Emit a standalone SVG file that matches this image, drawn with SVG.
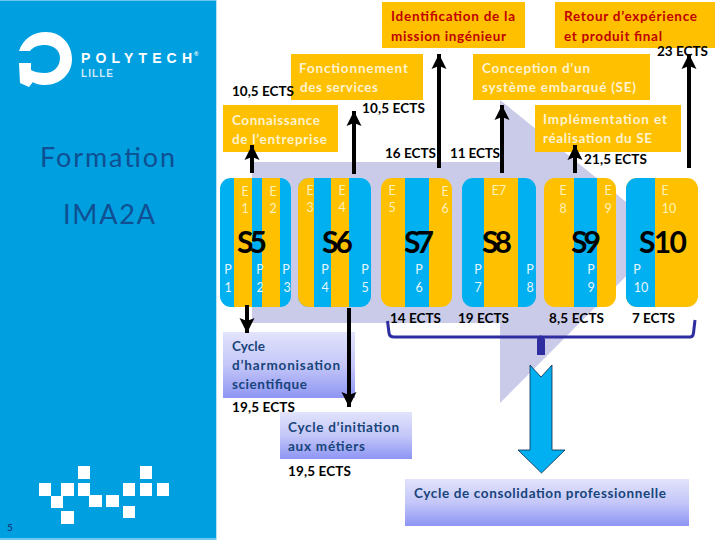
<svg xmlns="http://www.w3.org/2000/svg" width="720" height="540" viewBox="0 0 720 540">
<style>
text{font-family:"Lato","Liberation Sans",sans-serif;font-weight:700}
.or{fill:#ffc000}.cy{fill:#00b0f0}
.ttl{fill:#0f4f92;font-size:27px;font-weight:400;-webkit-text-stroke:.5px #0f4f92}
.lab{font-size:13.5px;fill:#fff3cf}
.red{font-size:13.5px;fill:#c00000}
.nav{font-size:13.5px;fill:#17447a}
.ects{font-size:13.5px;fill:#000}
.sem{font-size:30px;fill:#000}
.e{font-size:12.5px;fill:#fff2b8;font-weight:400;text-anchor:middle}
.p{font-size:12.5px;fill:#e8f6ff;font-weight:400;text-anchor:middle}
.px{fill:#fff}
.arr{stroke:#000;stroke-width:4;fill:none;marker-end:url(#head)}
</style>
<defs>
<marker id="head" markerUnits="userSpaceOnUse" markerWidth="16" markerHeight="16" refX="15" refY="8" orient="auto"><path d="M0 0.5L15 8L0 15.5L3 8Z" fill="#000"/></marker>
<linearGradient id="lav" x1="0" y1="0" x2="0" y2="1"><stop offset="0" stop-color="#e2e3fc"/><stop offset=".5" stop-color="#c4c7f8"/><stop offset="1" stop-color="#8e95f3"/></linearGradient>
<clipPath id="c5"><rect x="220" y="178" width="71" height="129" rx="11"/></clipPath>
<clipPath id="c6"><rect x="298" y="178" width="73" height="129" rx="11"/></clipPath>
<clipPath id="c7"><rect x="381" y="178" width="71" height="129" rx="11"/></clipPath>
<clipPath id="c8"><rect x="462" y="178" width="74" height="129" rx="11"/></clipPath>
<clipPath id="c9"><rect x="544" y="178" width="72" height="129" rx="11"/></clipPath>
<clipPath id="c10"><rect x="626" y="178" width="72" height="129" rx="11"/></clipPath>
</defs>
<rect width="720" height="540" fill="#fff"/>
<g id="panel">
<rect x="0" y="0" width="216" height="540" fill="#009fe0"/>
<rect x="216" y="0" width="1" height="540" fill="#b5e2f7"/>
<rect x="0" y="0" width="216" height="1" fill="#6cc8ef"/>
<rect x="0" y="538" width="216" height="2" fill="#6cc8ef"/>
<g id="logo">
<path d="M19 51C23 39 33 32 46 32C61 32 72 44 72 59C72 74 60 85 45 85C40 85 35 84 33 82L29 87L20 83L19 63L31 63L31 70C34 72 39 73 45 73C53 73 60 67 60 58C60 50 53 45 45 45C38 45 33 47 30 51Z" fill="#fff"/>
<text x="81" y="63" font-size="14" fill="#fff" textLength="111" style="font-family:'Liberation Sans',sans-serif">POLYTECH</text>
<text x="194" y="56" font-size="6" fill="#fff" style="font-family:'Liberation Sans',sans-serif">®</text>
<text x="81" y="77" font-size="10" fill="#cfeaf8" textLength="32" style="font-family:'Liberation Sans',sans-serif">LILLE</text>
</g>
<text class="ttl" x="40" y="167" textLength="135">Formation</text>
<text class="ttl" x="63" y="224" textLength="92">IMA2A</text>
<g id="pixels">
<rect class="px" x="78" y="466" width="12" height="13"/><rect class="px" x="140" y="466" width="12" height="13"/>
<rect class="px" x="39" y="483" width="12" height="13"/><rect class="px" x="61" y="483" width="13" height="13"/><rect class="px" x="78" y="483" width="12" height="13"/><rect class="px" x="123" y="483" width="12" height="13"/><rect class="px" x="140" y="483" width="12" height="13"/><rect class="px" x="157" y="483" width="12" height="13"/>
<rect class="px" x="51" y="496" width="12" height="12"/><rect class="px" x="89" y="495" width="13" height="12"/><rect class="px" x="106" y="495" width="13" height="12"/><rect class="px" x="123" y="506" width="12" height="12"/><rect class="px" x="61" y="511" width="13" height="13"/>
</g>
<text x="7" y="531" font-size="10" fill="#0b2a66" font-weight="400" style="font-weight:400">5</text>
</g>
<path id="backdrop" d="M252 162H500V100L667 235L500 403V323H252Z" fill="#c9cbe8"/>

<g id="S5"><g clip-path="url(#c5)"><rect class="cy" x="220" y="178" width="71" height="129"/><rect class="or" x="234" y="178" width="18" height="129"/><rect class="or" x="262" y="178" width="18" height="129"/></g>
<text class="e" x="245" y="196">E</text><text class="e" x="245" y="213">1</text><text class="e" x="273" y="196">E</text><text class="e" x="273" y="213">2</text>
<text class="p" x="228" y="274">P</text><text class="p" x="228" y="292">1</text><text class="p" x="260" y="274">P</text><text class="p" x="260" y="292">2</text><text class="p" x="286" y="274">P</text><text class="p" x="287" y="292">3</text>
<text class="sem" x="237" y="253" textLength="30">S5</text></g>

<g id="S6"><g clip-path="url(#c6)"><rect class="cy" x="298" y="178" width="73" height="129"/><rect class="or" x="298" y="178" width="16" height="129"/><rect class="or" x="331" y="178" width="18" height="129"/></g>
<text class="e" x="310" y="195">E</text><text class="e" x="310" y="212">3</text><text class="e" x="342" y="195">E</text><text class="e" x="342" y="212">4</text>
<text class="p" x="325" y="274">P</text><text class="p" x="325" y="292">4</text><text class="p" x="365" y="274">P</text><text class="p" x="365" y="292">5</text>
<text class="sem" x="322" y="253" textLength="31">S6</text></g>

<g id="S7"><g clip-path="url(#c7)"><rect class="or" x="381" y="178" width="71" height="129"/><rect class="cy" x="405" y="178" width="24" height="129"/></g>
<text class="e" x="392" y="195">E</text><text class="e" x="392" y="212">5</text><text class="e" x="445" y="196">E</text><text class="e" x="445" y="213">6</text>
<text class="p" x="419" y="274">P</text><text class="p" x="419" y="292">6</text>
<text class="sem" x="404" y="253" textLength="30">S7</text></g>

<g id="S8"><g clip-path="url(#c8)"><rect class="cy" x="462" y="178" width="74" height="129"/><rect class="or" x="484" y="178" width="34" height="129"/></g>
<text class="e" x="499" y="195">E7</text>
<text class="p" x="478" y="274">P</text><text class="p" x="478" y="292">7</text><text class="p" x="530" y="274">P</text><text class="p" x="530" y="292">8</text>
<text class="sem" x="482" y="253" textLength="30">S8</text></g>

<g id="S9"><g clip-path="url(#c9)"><rect class="or" x="544" y="178" width="72" height="129"/><rect class="cy" x="574" y="178" width="23" height="129"/></g>
<text class="e" x="563" y="195">E</text><text class="e" x="563" y="213">8</text><text class="e" x="608" y="195">E</text><text class="e" x="608" y="213">9</text>
<text class="p" x="591" y="274">P</text><text class="p" x="591" y="292">9</text>
<text class="sem" x="571" y="253" textLength="30">S9</text></g>

<g id="S10"><g clip-path="url(#c10)"><rect class="or" x="626" y="178" width="72" height="129"/><rect class="cy" x="626" y="178" width="29" height="129"/></g>
<text class="e" x="665" y="195">E</text><text class="e" x="669" y="213">10</text>
<text class="p" x="637" y="274">P</text><text class="p" x="641" y="292">10</text>
<text class="sem" x="639" y="253" textLength="48">S10</text></g>

<g id="box-identification"><rect class="or" x="382" y="2" width="143" height="46"/><text class="red" x="391" y="21" textLength="124">Identification de la</text><text class="red" x="391" y="41" textLength="115">mission ingénieur</text></g>
<g id="box-retour"><rect class="or" x="555" y="2" width="160" height="46"/><text class="red" x="564" y="21" textLength="133">Retour d’expérience</text><text class="red" x="564" y="41" textLength="98">et produit final</text></g>
<g id="box-fonctionnement"><rect class="or" x="291" y="54" width="132" height="46"/><text class="lab" x="299" y="73" textLength="109">Fonctionnement</text><text class="lab" x="300" y="92" textLength="78">des services</text></g>
<g id="box-conception"><rect class="or" x="473" y="54" width="177" height="46"/><text class="lab" x="482" y="73" textLength="108">Conception d’un</text><text class="lab" x="482" y="92" textLength="154">système embarqué (SE)</text></g>
<g id="box-connaissance"><rect class="or" x="223" y="105" width="115" height="47"/><text class="lab" x="232" y="125" textLength="88">Connaissance</text><text class="lab" x="232" y="144" textLength="95">de l’entreprise</text></g>
<g id="box-implementation"><rect class="or" x="535" y="105" width="146" height="47"/><text class="lab" x="543" y="124" textLength="124">Implémentation et</text><text class="lab" x="543" y="143" textLength="109">réalisation du SE</text></g>

<g id="box-harmonisation"><rect x="223" y="332" width="132" height="66" fill="url(#lav)"/><text class="nav" x="232" y="351" textLength="33">Cycle</text><text class="nav" x="232" y="370" textLength="108">d’harmonisation</text><text class="nav" x="232" y="389" textLength="75">scientifique</text></g>
<g id="box-initiation"><rect x="280" y="412" width="132" height="47" fill="url(#lav)"/><text class="nav" x="288" y="432" textLength="111">Cycle d’initiation</text><text class="nav" x="288" y="451" textLength="77">aux métiers</text></g>
<g id="box-consolidation"><rect x="405" y="479" width="284" height="47" fill="url(#lav)"/><text class="nav" x="414" y="498" textLength="252">Cycle de consolidation professionnelle</text></g>

<g id="connectors">
<line class="arr" x1="252" y1="173" x2="252" y2="145"/>
<line class="arr" x1="354" y1="174" x2="354" y2="111"/>
<line class="arr" x1="439" y1="168" x2="439" y2="54"/>
<line class="arr" x1="502" y1="173" x2="502" y2="105"/>
<line class="arr" x1="575" y1="173" x2="575" y2="145"/>
<line class="arr" x1="689" y1="168" x2="689" y2="54"/>
<line class="arr" x1="247" y1="305" x2="247" y2="333"/>
<line class="arr" x1="349" y1="308" x2="349" y2="407"/>
<path id="bracket" d="M387.500 321L389 333Q389.500 337 394 337H690Q693 337 693.500 333L695 320" fill="none" stroke="#2e2ea0" stroke-width="3"/>
<path id="bracket-tick" d="M540.500 335L545 339V355H537V339Z" fill="#2e2ea0"/>
<path id="down-arrow" d="M530 365L541 377L552 365V450H565L541.500 473L518 450H530Z" fill="#00b0f0" stroke="#0b2a4a" stroke-width=".8"/>
</g>

<g id="ects">
<text class="ects" x="232" y="96" textLength="62">10,5 ECTS</text>
<text class="ects" x="362" y="113" textLength="63">10,5 ECTS</text>
<text class="ects" x="385" y="158" textLength="51">16 ECTS</text>
<text class="ects" x="450" y="158" textLength="50">11 ECTS</text>
<text class="ects" x="584" y="164" textLength="63">21,5 ECTS</text>
<text class="ects" x="657" y="56" textLength="51">23 ECTS</text>
<text class="ects" x="390" y="323" textLength="51">14 ECTS</text>
<text class="ects" x="458" y="323" textLength="51">19 ECTS</text>
<text class="ects" x="549" y="323" textLength="55">8,5 ECTS</text>
<text class="ects" x="632" y="323" textLength="43">7 ECTS</text>
<text class="ects" x="232" y="412" textLength="63">19,5 ECTS</text>
<text class="ects" x="288" y="476" textLength="63">19,5 ECTS</text>
</g>
</svg>
